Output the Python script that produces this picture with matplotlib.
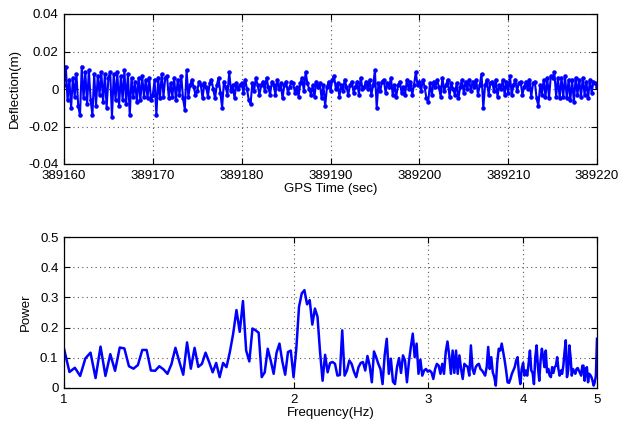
import numpy as np
import matplotlib
matplotlib.use("Agg")
import matplotlib.pyplot as plt
from matplotlib.ticker import FixedLocator, FixedFormatter, NullLocator

# ---------------- data ----------------
t_start = 389160
sample_rate = 5.0  # Hz
# deflection in millimetres, one row = 2 s
deflection_mm = [
    2, 12, -6, 5, -10, 6, -4, 8, -9, -14,
    12, -5, 9, -8, 10, -6, -14, 8, -9, 7,
    -3, 9, -7, 8, -10, 6, 9, -15, 8, -6,
    9, -9, 7, -6, 10, -8, 8, -14, 6, -4,
    4, -7, 6, -6, 7, -4, 5, -5, 6, -6,
    -3, 5, -14, 6, -5, 8, -4, 6, 7, -5,
    3, -4, 6, -6, 5, -3, 7, -5, -11, 10,
    -4, 2, 5, 1, -3, -1, 4, 2, -5, 3,
    1, -4, 3, 5, 0, -5, 2, 6, -2, -10,
    4, 1, -3, 9, -1, 2, -5, 3, 0, 2,
    3, -2, 5, 0, -6, -8, 3, -1, 6, 2,
    -3, 2, 4, -1, 6, 1, -3, 4, 2, -3,
    5, 0, 3, -5, 2, 4, -2, 1, 4, 3,
    -2, 1, -4, 3, 6, -1, 9, 3, 0, -3,
    2, -4, 4, 1, 3, -5, 2, -9, 1, 4,
    -1, 5, 7, 0, 3, -4, 2, -1, 5, 1,
    -3, 2, 4, -2, 1, 4, -3, 6, 0, 1,
    4, 0, 5, -3, 2, 10, -10, 3, -1, 4,
    5, -2, 3, 1, 6, -3, 2, -4, 2, 4,
    -2, 1, -3, 5, 0, 4, -3, 2, 9, 2,
    4, -1, 5, 1, -5, -7, 3, -3, 4, 1,
    5, 1, -4, 6, -1, 2, 5, -4, 3, 0,
    -3, 3, -5, 1, 5, -2, 4, 0, 5, -1,
    4, 1, 5, -3, 2, 8, -10, 2, 5, -3,
    3, 4, -1, 5, -4, 2, 0, 5, -3, 4,
    -2, 7, -3, 2, 5, -1, 3, 4, -3, 1,
    4, 0, 5, -4, 3, 4, -5, -9, 2, -3,
    5, -4, 6, -5, 7, 6, 9, -4, 6, -5,
    6, -4, 7, -5, 5, -6, 5, -7, 6, -3,
    5, -4, 6, -3, 4, -5, 5, -2, 4, 3,
    1,
]

# power spectrum, frequencies 1 .. 5 Hz in steps of 1/60 Hz
freq_start = 1.0
freq_step = 1.0 / 60.0
power = [
    0.130, 0.053, 0.067, 0.040, 0.098, 0.117, 0.033, 0.137, 0.040, 0.112,
    0.057, 0.134, 0.131, 0.072, 0.064, 0.076, 0.126, 0.126, 0.058, 0.057,
    0.072, 0.062, 0.047, 0.079, 0.133, 0.087, 0.044, 0.151, 0.064, 0.133,
    0.070, 0.080, 0.117, 0.086, 0.052, 0.083, 0.036, 0.083, 0.069, 0.119,
    0.180, 0.258, 0.186, 0.288, 0.124, 0.088, 0.197, 0.191, 0.183, 0.036,
    0.052, 0.130, 0.091, 0.047, 0.117, 0.147, 0.088, 0.044, 0.119, 0.124,
    0.036, 0.130, 0.269, 0.313, 0.324, 0.277, 0.291, 0.210, 0.263, 0.236,
    0.119, 0.024, 0.110, 0.052, 0.083, 0.086, 0.080, 0.041, 0.043, 0.191,
    0.041, 0.058, 0.091, 0.080, 0.054, 0.036, 0.069, 0.083, 0.086, 0.058,
    0.106, 0.074, 0.019, 0.121, 0.102, 0.080, 0.063, 0.013, 0.108, 0.163,
    0.047, 0.097, 0.021, 0.013, 0.069, 0.099, 0.050, 0.108, 0.091, 0.019,
    0.086, 0.136, 0.180, 0.102, 0.147, 0.047, 0.094, 0.041, 0.058, 0.063,
    0.054, 0.058, 0.052, 0.030, 0.063, 0.080, 0.074, 0.047, 0.080, 0.047,
    0.119, 0.154, 0.108, 0.047, 0.124, 0.050, 0.124, 0.047, 0.108, 0.063,
    0.030, 0.080, 0.074, 0.070, 0.041, 0.141, 0.063, 0.047, 0.069, 0.077,
    0.080, 0.063, 0.058, 0.050, 0.041, 0.069, 0.136, 0.063, 0.102, 0.052,
    0.036, 0.008, 0.086, 0.130, 0.124, 0.147, 0.119, 0.091, 0.058, 0.019,
    0.017, 0.030, 0.047, 0.058, 0.069, 0.091, 0.102, 0.047, 0.013, 0.063,
    0.083, 0.041, 0.058, 0.041, 0.080, 0.124, 0.058, 0.050, 0.013, 0.102,
    0.141, 0.069, 0.024, 0.091, 0.130, 0.102, 0.069, 0.124, 0.052, 0.063,
    0.041, 0.036, 0.069, 0.050, 0.069, 0.074, 0.102, 0.063, 0.041, 0.058,
    0.047, 0.074, 0.119, 0.158, 0.036, 0.058, 0.141, 0.102, 0.041, 0.063,
    0.054, 0.047, 0.063, 0.066, 0.058, 0.050, 0.041, 0.074, 0.074, 0.024,
    0.063, 0.069, 0.019, 0.047, 0.043, 0.036, 0.024, 0.008, 0.019, 0.041,
    0.163,
]

top_yticks = [-0.04, -0.02, 0, 0.02, 0.04]
top_yticklabels = ["-0.04", "-0.02", "0", "0.02", "0.04"]
top_xticks = [389160, 389170, 389180, 389190, 389200, 389210, 389220]
bot_xticks = [1, 2, 3, 4, 5]
bot_yticks = [0, 0.1, 0.2, 0.3, 0.4, 0.5]
bot_yticklabels = ["0", "0.1", "0.2", "0.3", "0.4", "0.5"]

# ---------------- plotting ----------------
plt.rcParams['font.family'] = ['Liberation Sans', 'DejaVu Sans']
plt.rcParams['font.size'] = 9.5

t = t_start + np.arange(len(deflection_mm)) / sample_rate
defl = np.array(deflection_mm) / 1000.0
f = freq_start + np.arange(len(power)) * freq_step
p = np.array(power)

fig = plt.figure(figsize=(6.18, 4.25), dpi=100)
W, H = 618, 425
ax1 = fig.add_axes([64 / W, 1 - 164 / H, (597 - 64) / W, (164 - 14) / H])
ax2 = fig.add_axes([64 / W, 1 - 388 / H, (597 - 64) / W, (388 - 237) / H])

blue = (0, 0, 1)

ax1.plot(t, defl, color=blue, lw=1.5, marker='.', markersize=4.5)
ax1.set_xlim(389160, 389220)
ax1.set_ylim(-0.04, 0.04)
ax1.set_xticks(top_xticks)
ax1.set_xticklabels([str(v) for v in top_xticks])
ax1.set_yticks(top_yticks)
ax1.set_yticklabels(top_yticklabels)
ax1.set_xlabel("GPS Time (sec)", labelpad=1)
ax1.set_ylabel("Deflection(m)", labelpad=5)

ax2.plot(f, p, color=blue, lw=1.8)
ax2.set_xscale('log')
ax2.set_xlim(1, 5)
ax2.set_ylim(0, 0.5)
ax2.xaxis.set_major_locator(FixedLocator(bot_xticks))
ax2.xaxis.set_major_formatter(FixedFormatter([str(v) for v in bot_xticks]))
ax2.xaxis.set_minor_locator(NullLocator())
ax2.set_yticks(bot_yticks)
ax2.set_yticklabels(bot_yticklabels)
ax2.set_xlabel("Frequency(Hz)", labelpad=1)
ax2.set_ylabel("Power", labelpad=6)

for ax in (ax1, ax2):
    ax.grid(True, linestyle=(0, (1, 3)), color='0.35', linewidth=0.8)
    ax.tick_params(direction='in', top=True, right=True, length=4, width=0.8,
                   labelsize=9.5, pad=4)
    for s in ax.spines.values():
        s.set_linewidth(0.9)
    ax.set_axisbelow(True)

fig.savefig("out.png", dpi=100)
